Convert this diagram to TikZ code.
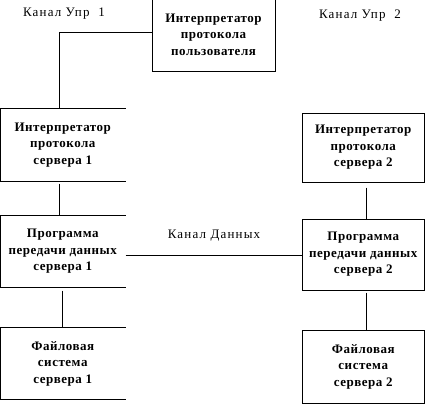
\documentclass[tikz,border=0pt]{standalone}
\usepackage{fontspec}
\setmainfont{Liberation Serif}
\newfontfamily\boxfont[LetterSpace=4]{Liberation Serif}
\newfontfamily\lblfont[LetterSpace=9]{Liberation Serif}
\begin{document}
\begin{tikzpicture}[x=1pt,y=-1pt,
  box/.style={minimum width=#1, inner sep=0pt, align=center, font=\boxfont\fontsize{13}{16.5}\selectfont\bfseries, line width=1pt},
  lbl/.style={font=\lblfont\fontsize{13}{16}\selectfont, inner sep=0pt},
  conn/.style={line width=1pt}]
\useasboundingbox (0,0) rectangle (425,404);
\clip (0,0) rectangle (425,404);
% top box
\node[box=123pt, draw, minimum height=73pt] (top) at (213.5,34.5) {Интерпретатор\\протокола\\пользователя};
% left column (right side open)
\node[box=124.5pt, minimum height=72pt] (l1) at (62.75,145) {Интерпретатор\\протокола\\сервера 1};
\node[box=124.5pt, minimum height=71pt] (l2) at (62.75,251.5) {Программа\\передачи данных\\сервера 1};
\node[box=124.5pt, minimum height=71pt] (l3) at (62.75,363.5) {Файловая\\система\\сервера 1};
\foreach \n in {l1,l2,l3}
  \draw[conn] (\n.north east) -- (\n.north west) -- (\n.south west) -- (\n.south east);
% right column
\node[box=122.5pt, draw, minimum height=69pt] (r1) at (363.25,147.5) {Интерпретатор\\протокола\\сервера 2};
\node[box=122.5pt, draw, minimum height=71pt] (r2) at (363.25,254.5) {Программа\\передачи данных\\сервера 2};
\node[box=122.5pt, draw, minimum height=73pt] (r3) at (363.25,366.5) {Файловая\\система\\сервера 2};
% labels
\node[lbl] (k1) at (64,14) {Канал Упр\ \ 1};
\node[lbl] (k2) at (360,16) {Канал Упр\ \ 2};
\node[lbl] (kd) at (214,236) {Канал Данных};
% connectors
\draw[conn] ([yshift=1.5pt]top.west) -| ([xshift=-3.75pt]l1.north);
\draw[conn] ([xshift=-3.75pt,yshift=-2pt]l1.south) -- ([xshift=-3.75pt]l2.north);
\draw[conn] ([xshift=-0.75pt,yshift=-3pt]l2.south) -- ([xshift=-0.75pt]l3.north);
\draw[conn] ([yshift=-3.5pt]l2.east) -- ([yshift=-0.5pt]r2.west);
\draw[conn] ([xshift=2.75pt,yshift=-5pt]r1.south) -- ([xshift=2.75pt]r2.north);
\draw[conn] ([xshift=2.75pt,yshift=-2pt]r2.south) -- ([xshift=2.75pt]r3.north);
\end{tikzpicture}
\end{document}
